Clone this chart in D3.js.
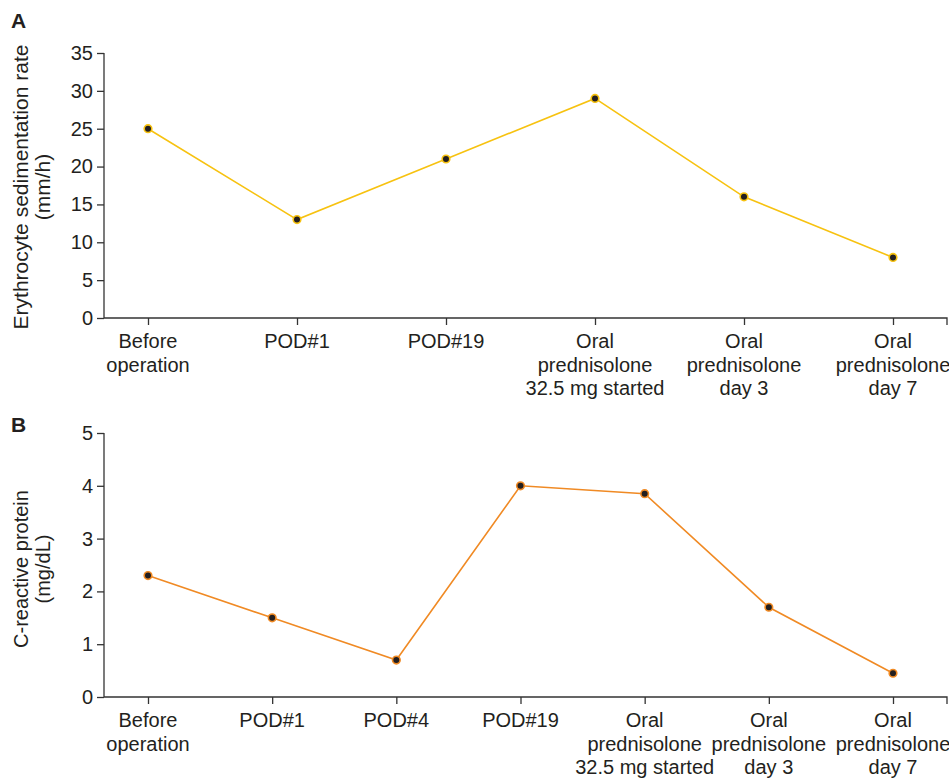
<!DOCTYPE html>
<html>
<head>
<meta charset="utf-8">
<script src="https://cdn.jsdelivr.net/npm/d3@7"></script>
<style>
  body { margin: 0; background: #fff; }
  svg text { font-family: "Liberation Sans", Arial, sans-serif; fill: #231f20; }
</style>
</head>
<body>
<svg width="949" height="778"></svg>
<script>
// panel A: ESR
var esrLabels = [["Before", "operation"], ["POD#1"], ["POD#19"],
    ["Oral", "prednisolone", "32.5 mg started"], ["Oral", "prednisolone", "day 3"], ["Oral", "prednisolone", "day 7"]];
var esrValues = [25, 13, 21, 29, 16, 8];
var esrTicks = [0, 5, 10, 15, 20, 25, 30, 35];

// panel B: CRP
var crpLabels = [["Before", "operation"], ["POD#1"], ["POD#4"], ["POD#19"],
    ["Oral", "prednisolone", "32.5 mg started"], ["Oral", "prednisolone", "day 3"], ["Oral", "prednisolone", "day 7"]];
var crpValues = [2.3, 1.5, 0.7, 4.0, 3.85, 1.7, 0.45];
var crpTicks = [0, 1, 2, 3, 4, 5];

var svg = d3.select("svg");
var FS = 20;

function panel(opt) {
    var g = svg.append("g");
    var x = d3.scalePoint().domain(d3.range(opt.labels.length)).range([148, 893]);
    var y = d3.scaleLinear().domain([0, opt.max]).range([opt.y0, opt.y1]);

    // y axis
    var ya = g.append("g").attr("transform", "translate(104,0)")
        .call(d3.axisLeft(y).tickValues(opt.ticks).tickFormat(d3.format("d")).tickSize(7).tickPadding(4));
    ya.selectAll("path, line").attr("stroke", "#333").attr("stroke-width", 1.3);
    ya.select(".domain").attr("d", "M0," + opt.y1 + "V" + opt.y0);
    ya.selectAll("text").attr("font-size", FS).attr("font-family", "Liberation Sans, Arial").attr("fill", "#231f20");

    // x axis
    var xa = g.append("g").attr("transform", "translate(0," + opt.y0 + ")")
        .call(d3.axisBottom(x).tickSize(7).tickFormat(""));
    xa.select(".domain").attr("d", "M104,0H947V7");
    xa.selectAll("path, line").attr("stroke", "#333").attr("stroke-width", 1.3).attr("fill", "none");

    // category labels
    opt.labels.forEach(function (lines, i) {
        var t = g.append("text").attr("text-anchor", "middle").attr("font-size", FS)
            .attr("x", x(i)).attr("y", opt.y0 + 30);
        lines.forEach(function (l, j) {
            t.append("tspan").attr("x", x(i)).attr("dy", j ? 23.5 : 0).text(l);
        });
    });

    // line + markers
    var line = d3.line().x(function (d, i) { return x(i); }).y(function (d) { return y(d); });
    g.append("path").datum(opt.values).attr("d", line)
        .attr("fill", "none").attr("stroke", opt.color).attr("stroke-width", 1.6);
    g.selectAll("circle").data(opt.values).enter().append("circle")
        .attr("cx", function (d, i) { return x(i); })
        .attr("cy", function (d) { return y(d); })
        .attr("r", 3.8).attr("fill", "#231f20")
        .attr("stroke", opt.color).attr("stroke-width", 1.6);

    // y title
    opt.title.forEach(function (l, j) {
        g.append("text").attr("text-anchor", "middle").attr("font-size", opt.titleSize)
            .attr("transform", "translate(" + (28 + j * 22) + "," + opt.titleY + ") rotate(-90)")
            .text(l);
    });

    // panel letter
    g.append("text").attr("x", 11).attr("y", opt.letterY).attr("font-size", 21)
        .attr("font-weight", "bold").text(opt.letter);
}

panel({ labels: esrLabels, values: esrValues, ticks: esrTicks, max: 35, y0: 318, y1: 53,
    color: "#f7c210", title: ["Erythrocyte sedimentation rate", "(mm/h)"], titleY: 187, titleSize: 21,
    letter: "A", letterY: 28 });
panel({ labels: crpLabels, values: crpValues, ticks: crpTicks, max: 5, y0: 697, y1: 433,
    color: "#f08a24", title: ["C-reactive protein", "(mg/dL)"], titleY: 569, titleSize: 20,
    letter: "B", letterY: 432 });
</script>
</body>
</html>
